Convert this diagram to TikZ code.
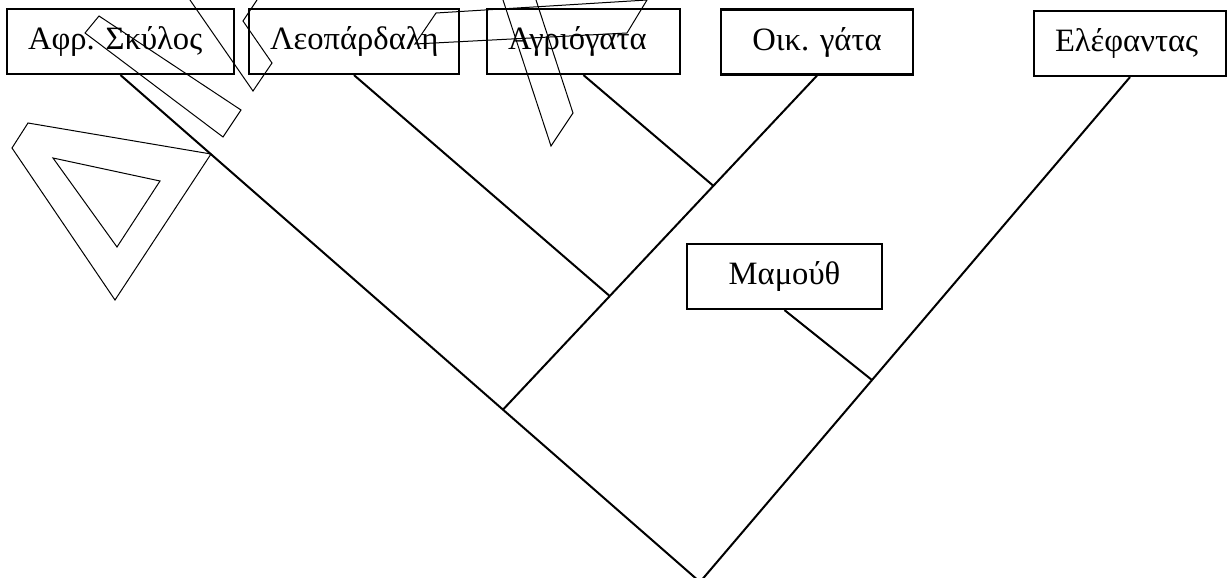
\documentclass[tikz,border=0pt]{standalone}
\usepackage{fontspec}
\setmainfont{Liberation Serif}
\usetikzlibrary{calc}
\begin{document}
\frenchspacing
\begin{tikzpicture}[x=0.5pt, y=-0.5pt,
    taxon/.style={draw, line width=1.1pt, minimum height=32.5pt, inner xsep=10.5pt,
      inner ysep=0pt, font=\fontsize{16.3}{20}\selectfont, align=left},
    branch/.style={line width=1pt},
    ruler/.style={line width=0.5pt}]
    \useasboundingbox (0, 0) rectangle (1228, 578);
    \clip (0, 0) rectangle (1228, 578);
    \node[taxon, text width=92.5pt] (skylos) at (120.5, 41.5) {Αφρ.\ Σκύλος};
    \node[taxon, text width=84pt] (leopardali) at (354, 41.5) {Λεοπάρδαλη};
    \node[taxon, text width=75.5pt] (agriogata) at (583.5, 41.5) {Αγριόγατα};
    \node[taxon, text width=75pt, align=center] (oikgata) at (817, 42) {Οικ.\ γάτα};
    \node[taxon, text width=75pt] (elefantas) at (1130, 43.5) {Ελέφαντας};
    \node[taxon, text width=76.5pt, align=center] (mamouth) at (784.5, 276.5) {Μαμούθ};
    \coordinate (root) at (700, 582);
    \coordinate (j1) at ($(root)!0.34!(skylos.south)$);
    \coordinate (j2) at ($(j1)!0.34!(oikgata.south)$);
    \coordinate (j3) at ($(j1)!0.67!(oikgata.south)$);
    \coordinate (j4) at ($(root)!0.4!(elefantas.south)$);
    \draw[branch] (skylos.south) -- (root) -- (elefantas.south);
    \draw[branch] (j1) -- (oikgata.south);
    \draw[branch] (leopardali.south) -- (j2);
    \draw[branch] (agriogata.south) -- (j3);
    \draw[branch] (mamouth.south) -- (j4);
    \draw[ruler] (99, 16) -- (241, 110) -- (223, 137) -- (85, 33) -- cycle;
    \draw[ruler] (28, 123) -- (211, 154) -- (115, 300) -- (12, 148) -- cycle;
    \draw[ruler] (53, 158) -- (160, 181) -- (117, 247) -- cycle;
    \draw[ruler] (190, 0) -- (253, 91) -- (272, 63) -- (243, 21) -- (257, 0);
    \draw[ruler] (436, 13) -- (647, 0) -- (627, 33) -- (415, 44) -- cycle;
    \draw[ruler] (503, 0) -- (551, 146) -- (573, 113) -- (536, 0);
\end{tikzpicture}
\end{document}
